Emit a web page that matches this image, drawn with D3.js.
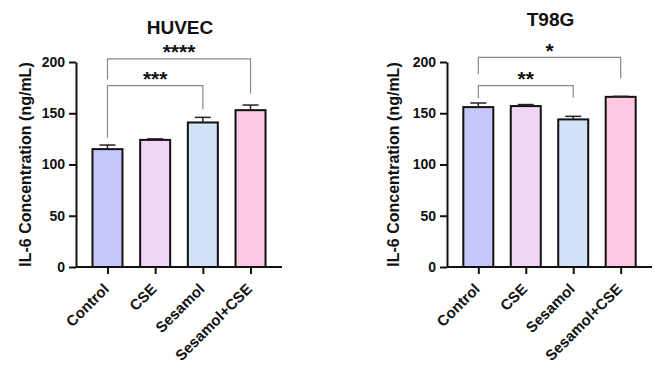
<!DOCTYPE html>
<html>
<head>
<meta charset="utf-8">
<script src="https://cdn.jsdelivr.net/npm/d3@7"></script>
<style>
  body { margin: 0; background: #fff; }
  text { font-family: "Liberation Sans", Arial, sans-serif; font-weight: bold; fill: #111; }
</style>
</head>
<body>
<div id="chart"></div>
<script>
// values
const groups = ["Control", "CSE", "Sesamol", "Sesamol+CSE"];
const fills = ["#c6c6fa", "#f0d6f6", "#d0e1f8", "#fdc9e2"];
const yTicks = [0, 50, 100, 150, 200];

const huvecMean = [115, 124, 141, 153];
const huvecErr = [4, 1, 5, 5];
// brackets: from/to group index, line level and leg ends in data units
const huvecSig = [
  { from: 0, to: 2, level: 177, legs: [126, 154], label: "***" },
  { from: 0, to: 3, level: 203, legs: [183, 169], label: "****" }
];

const t98gMean = [156, 157, 144, 166];
const t98gErr = [4, 1.5, 3, 0.5];
const t98gSig = [
  { from: 0, to: 2, level: 177, legs: [165, 165], label: "**" },
  { from: 0, to: 3, level: 204.5, legs: [188, 184], label: "*" }
];

const width = 669, height = 381;
const svg = d3.select("#chart").append("svg")
    .attr("width", width).attr("height", height);

function panel(opts) {
  const { x0, x1, title, titleY, mean, err, sig, labelX } = opts;
  const top = 62, bottom = 267;

  let x = d3.scalePoint().domain(groups).range([x0, x1]).padding(0.66);
  let y = d3.scaleLinear().domain([0, 200]).range([bottom, top]);
  const barW = 30;

  const g = svg.append("g");

  // bars
  g.selectAll("rect.bar").data(groups).join("rect")
    .attr("x", d => x(d) - barW / 2)
    .attr("y", (d, i) => y(mean[i]))
    .attr("width", barW)
    .attr("height", (d, i) => y(0) - y(mean[i]))
    .attr("fill", (d, i) => fills[i])
    .attr("stroke", "#111")
    .attr("stroke-width", 2);

  // error bars (upper only)
  groups.forEach((d, i) => {
    g.append("line")
      .attr("x1", x(d)).attr("x2", x(d))
      .attr("y1", y(mean[i])).attr("y2", y(mean[i] + err[i]))
      .attr("stroke", "#222").attr("stroke-width", 1.5);
    g.append("line")
      .attr("x1", x(d) - 8).attr("x2", x(d) + 8)
      .attr("y1", y(mean[i] + err[i])).attr("y2", y(mean[i] + err[i]))
      .attr("stroke", "#222").attr("stroke-width", 1.5);
  });

  // y axis
  const ya = g.append("g")
    .attr("transform", `translate(${x0},0)`)
    .call(d3.axisLeft(y).tickValues(yTicks).tickSize(7).tickPadding(4).tickSizeOuter(0));
  ya.selectAll("path, line").attr("stroke", "#111").attr("stroke-width", 2);
  ya.selectAll("text").style("font-size", "14px").style("font-family", "Liberation Sans, Arial").attr("font-weight", "bold");

  // x axis
  const xa = g.append("g")
    .attr("transform", `translate(0,${bottom})`)
    .call(d3.axisBottom(x).tickSize(7).tickSizeOuter(0));
  xa.select("path").attr("d", `M${x0},0H${x1}`);
  xa.selectAll("path, line").attr("stroke", "#111").attr("stroke-width", 2);
  xa.selectAll("text")
    .style("font-size", "15px").style("font-family", "Liberation Sans, Arial").attr("font-weight", "bold")
    .attr("text-anchor", "end")
    .attr("x", 0).attr("y", 0).attr("dy", 0)
    .attr("transform", "translate(2,23) rotate(-45)");

  // axis label
  g.append("text")
    .attr("transform", `translate(${labelX},${(top + bottom) / 2}) rotate(-90)`)
    .attr("text-anchor", "middle")
    .style("font-size", "16px")
    .text("IL-6 Concentration (ng/mL)");

  // title
  g.append("text")
    .attr("x", (x0 + x1) / 2 + 1).attr("y", titleY)
    .attr("text-anchor", "middle")
    .style("font-size", "19px")
    .text(title);

  // significance brackets
  sig.forEach(s => {
    const xa1 = x(groups[s.from]), xb = x(groups[s.to]);
    g.append("path")
      .attr("d", `M${xa1},${y(s.legs[0])}V${y(s.level)}H${xb}V${y(s.legs[1])}`)
      .attr("fill", "none").attr("stroke", "#8a8a8a").attr("stroke-width", 1.2);
    g.append("text")
      .attr("x", (xa1 + xb) / 2).attr("y", y(s.level) + 0.5)
      .attr("text-anchor", "middle")
      .style("font-size", "21px")
      .text(s.label);
  });
}

panel({ x0: 76, x1: 282, title: "HUVEC", titleY: 33.5, mean: huvecMean, err: huvecErr, sig: huvecSig, labelX: 31 });
panel({ x0: 447, x1: 652, title: "T98G", titleY: 26, mean: t98gMean, err: t98gErr, sig: t98gSig, labelX: 399 });
</script>
</body>
</html>
